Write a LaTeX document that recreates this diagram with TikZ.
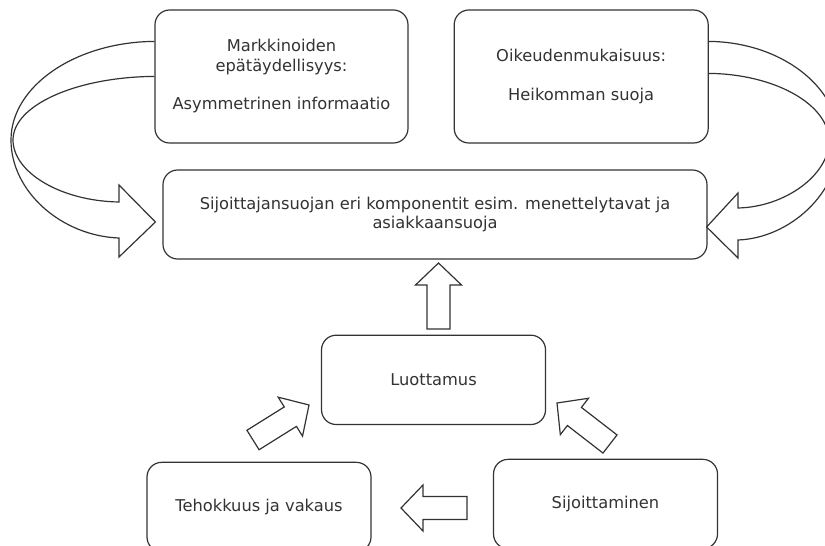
\documentclass[tikz,border=0pt]{standalone}
\usepackage{fontspec}
\newfontfamily\diagfont{DejaVu Sans}
\usetikzlibrary{calc, positioning}
\tikzset{
  infobox/.style={
    draw=black!80, line width=0.9pt, rounded corners=11pt, align=center,
    fill=white, inner sep=2pt, text=black!80,
    font=\diagfont\fontsize{12.2pt}{14.5pt}\selectfont
  },
  smallbox/.style={
    infobox, minimum width=168pt, minimum height=67pt
  },
  curvearrow/.style={
    draw=black!80, line width=0.9pt, line join=miter
  },
  blockarrow/.style={
    draw=black!80, line width=0.9pt, fill=white, line join=miter,
    to path={
      ($(\tikztostart)!8.6pt!90:(\tikztotarget)$)
      -- ($($(\tikztotarget)!16.5pt!(\tikztostart)$)!8.6pt!-90:(\tikztostart)$)
      -- ($($(\tikztotarget)!16.5pt!(\tikztostart)$)!17.25pt!-90:(\tikztostart)$)
      -- (\tikztotarget)
      -- ($($(\tikztotarget)!16.5pt!(\tikztostart)$)!17.25pt!90:(\tikztostart)$)
      -- ($($(\tikztotarget)!16.5pt!(\tikztostart)$)!8.6pt!90:(\tikztostart)$)
      -- ($(\tikztostart)!8.6pt!-90:(\tikztotarget)$)
      -- cycle
    }
  },
}

\begin{document}
\begin{tikzpicture}[x=0.75pt, y=-0.75pt]
  \useasboundingbox (0,0) rectangle (825,546);
  \clip (0,0) rectangle (825,546);

  % upper row
  \node[infobox, minimum width=189.75pt, minimum height=99.75pt] (market) at (281.5,76.5)
    {Markkinoiden\\epätäydellisyys:\\[14.5pt]Asymmetrinen informaatio};
  \node[infobox, minimum width=190.5pt, minimum height=99.75pt, right=33.75pt of market] (fair)
    {Oikeudenmukaisuus:\\[14.5pt]Heikomman suoja};
  \node[infobox, minimum width=408pt, minimum height=66.75pt] (comp) at (435,214.5)
    {Sijoittajansuojan eri komponentit esim. menettelytavat ja\\asiakkaansuoja};

  % lower triangle
  \node[smallbox, below=56.25pt of comp, xshift=-1.1pt] (trust) {Luottamus};
  \node[smallbox] (eff) at (259,507) {Tehokkuus ja vakaus};
  \node[smallbox] (invest) at (605.5,504) {Sijoittaminen};

  % ends of the block arrows
  \coordinate (upS) at (438.5,329);
  \coordinate (upE) at (438.5,263);
  \coordinate (effS) at (253,440);
  \coordinate (effE) at (309,405);
  \coordinate (invS) at (610,444);
  \coordinate (invE) at (557,403);
  \coordinate (sideS) at (467,508);
  \coordinate (sideE) at (401,508);

  \draw[blockarrow] (upS) to (upE);
  \draw[blockarrow] (effS) to (effE);
  \draw[blockarrow] (invS) to (invE);
  \draw[blockarrow] (sideS) to (sideE);

  % curved arrows into the components box
  \coordinate (lcA) at ($(market.north west)+(0,32)$);
  \coordinate (lcB) at ($(market.north west)+(0,67)$);
  \coordinate (lcE) at ($(comp.west)+(-7,7.5)$);
  \draw[curvearrow] (lcA) .. controls (75.5,42) and (11,86) .. (11,140)
    .. controls (11,192) and (62,236) .. (119,238) -- (119,257) -- (lcE)
    -- (119,185) -- (119,202) .. controls (60,201) and (13,172) .. (13,140)
    .. controls (13,105) and (76.6,77) .. (lcB);

  \coordinate (rcA) at ($(fair.north east)+(0,32)$);
  \coordinate (rcB) at ($(fair.north east)+(0,64)$);
  \coordinate (rcE) at ($(comp.east)+(-1,12.5)$);
  \draw[curvearrow] (rcA) .. controls (780,42) and (839,86) .. (839,141)
    .. controls (839,193) and (790,238) .. (738,240) -- (738,258) -- (rcE)
    -- (738,193) -- (738,208) .. controls (785,207) and (829,175) .. (829,141)
    .. controls (829,104) and (774,74) .. (rcB);
\end{tikzpicture}
\end{document}
